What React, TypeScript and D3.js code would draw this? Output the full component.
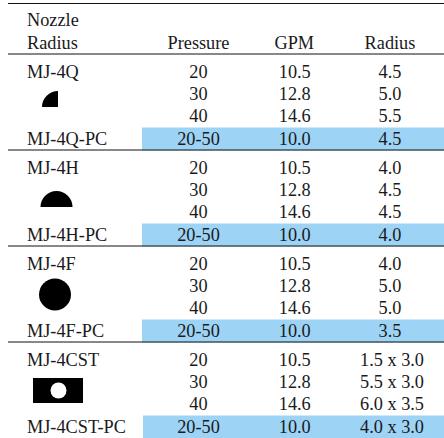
import React from "react";
import * as d3 from "d3";

const groupNames = ["MJ-4Q", "MJ-4H", "MJ-4F", "MJ-4CST"];
const pcNames = ["MJ-4Q-PC", "MJ-4H-PC", "MJ-4F-PC", "MJ-4CST-PC"];
const pressures = ["20", "30", "40", "20-50"];
const gpm = ["10.5", "12.8", "14.6", "10.0"];
const radii = [
  ["4.5", "5.0", "5.5", "4.5"],
  ["4.0", "4.5", "4.5", "4.0"],
  ["4.0", "5.0", "5.0", "3.5"],
  ["1.5 x 3.0", "5.5 x 3.0", "6.0 x 3.5", "4.0 x 3.0"],
];
const columns = ["Pressure", "GPM", "Radius"];

const W = 444;
const H = 438;
const font = "'Liberation Serif', serif";
const fs = 18.3;
const ink = "#1a1a1a";
const blue = "#9dd3f5";

const groupY = d3.scaleLinear().domain([0, 1]).range([77.5, 173.5]);
const rowOffset = d3.scaleOrdinal<number, number>().domain([0, 1, 2, 3]).range([0, 22.5, 44.5, 67]);
const colX = d3.scalePoint<string>().domain(columns).range([198.5, 390]);

const arc = d3.arc();
const quarter = arc({ innerRadius: 0, outerRadius: 16, startAngle: -Math.PI / 2, endAngle: 0 }) as string;
const half = arc({ innerRadius: 0, outerRadius: 16, startAngle: -Math.PI / 2, endAngle: Math.PI / 2 }) as string;

const T = ({ x, y, a, children }: { x: number; y: number; a?: string; children: React.ReactNode }) => (
  <text x={x} y={y} textAnchor={a ?? "middle"} fontFamily={font} fontSize={fs} fill={ink}>
    {children}
  </text>
);

export default function App() {
  const rules = [3.5, 54, 150, 246, 342];
  return (
    <svg width={W} height={H} viewBox={`0 0 ${W} ${H}`} style={{ position: "absolute", left: 0, top: 0, background: "#fff" }}>
      {groupNames.map((_, g) => (
        <rect key={g} x={g === 3 ? 143 : 142} y={groupY(g) + 50} width={W - 142} height={23} fill={blue} />
      ))}
      {rules.map((y) => (
        <line key={y} x1={8} x2={W} y1={y} y2={y} stroke="#111" strokeWidth={1} />
      ))}
      <T x={27} y={26} a="start">Nozzle</T>
      <T x={27} y={49} a="start">Radius</T>
      {columns.map((c) => (
        <T key={c} x={colX(c)!} y={49}>{c}</T>
      ))}
      {groupNames.map((name, g) => (
        <g key={name}>
          <T x={27} y={groupY(g)} a="start">{name}</T>
          <T x={27} y={groupY(g) + rowOffset(3)} a="start">{pcNames[g]}</T>
          {pressures.map((p, r) => (
            <T key={r} x={colX("Pressure")!} y={groupY(g) + rowOffset(r)}>{p}</T>
          ))}
          {gpm.map((v, r) => (
            <T key={r} x={colX("GPM")! + 0.5} y={groupY(g) + rowOffset(r)}>{v}</T>
          ))}
          {radii[g].map((v, r) => (
            <T key={r} x={colX("Radius")! + (g === 3 ? 2 : 0)} y={groupY(g) + rowOffset(r)}>{v}</T>
          ))}
        </g>
      ))}
      <path d={quarter} transform="translate(58,107)" fill="#000" />
      <path d={half} transform="translate(56.5,207)" fill="#000" />
      <circle cx={55} cy={294.5} r={16} fill="#000" />
      <rect x={33} y={378} width={50} height={25} fill="#000" />
      <circle cx={58.5} cy={390.5} r={8} fill="#fff" />
    </svg>
  );
}
